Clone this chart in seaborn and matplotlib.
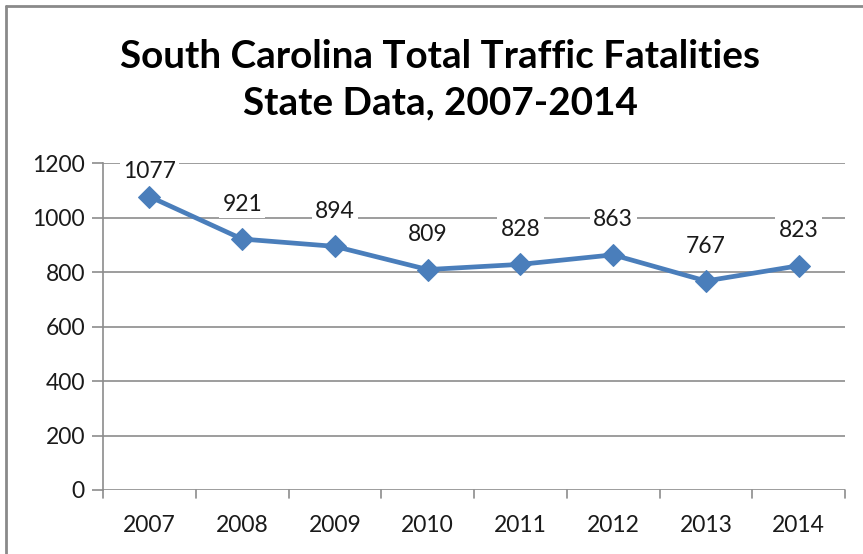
import matplotlib
matplotlib.use("Agg")
import matplotlib.pyplot as plt
import seaborn as sns
import pandas as pd
from matplotlib.lines import Line2D

years = ["2007", "2008", "2009", "2010", "2011", "2012", "2013", "2014"]
fatalities = [1077, 921, 894, 809, 828, 863, 767, 823]
y_ticks = [0, 200, 400, 600, 800, 1000, 1200]
title_lines = ["South Carolina Total Traffic Fatalities", "State Data, 2007-2014"]

df = pd.DataFrame({"year": years, "fatalities": fatalities})

sns.set_theme(style="white")
plt.rcParams["font.family"] = ["Lato", "DejaVu Sans"]

W, H = 863, 554
fig = plt.figure(figsize=(W / 100, H / 100), dpi=100)
ax = fig.add_axes([103 / W, 1 - 490 / H, (845 - 103) / W, (490 - 163) / H])

blue = "#4a7ebb"
grid = "#8c8c8c"
txt = "#1a1a1a"

x = list(range(len(years)))
df["x"] = x
sns.lineplot(data=df, x="x", y="fatalities", ax=ax, color=blue, linewidth=3.4,
             marker="D", markersize=11.5, markeredgecolor=blue, zorder=3)

ax.set_xlim(-0.5, len(years) - 0.5)
ax.set_ylim(0, 1200)
ax.set_yticks(y_ticks)
ax.set_yticklabels([str(t) for t in y_ticks], fontsize=16.5, color=txt)
ax.set_xticks(x)
ax.set_xticklabels(years, fontsize=16.5, color=txt)
ax.set_xlabel("")
ax.set_ylabel("")

# horizontal gridlines (bottom one acts as the category axis)
for t in y_ticks:
    ax.axhline(t, color=grid, linewidth=1.2, zorder=1)
for s in ["top", "right", "bottom"]:
    ax.spines[s].set_visible(False)
ax.spines["left"].set_color(grid)
ax.spines["left"].set_linewidth(1.2)

# y ticks outward on the left, category separators below the axis
ax.tick_params(axis="y", which="major", length=8, color=grid, width=1.2, left=True, pad=5)
ax.tick_params(axis="x", which="major", length=0, pad=18)
for b in range(len(years) + 1):
    ax.add_line(Line2D([b - 0.5, b - 0.5], [0, -28], color=grid, linewidth=1.2,
                       clip_on=False, zorder=1))

# value labels above each point, kept inside the plot area
for xi, v in zip(x, fatalities):
    ly = min(v + 128, 1167)
    ax.text(xi, ly, str(v), ha="center", va="center", fontsize=16.5, color=txt,
            bbox=dict(boxstyle="square,pad=0.15", fc="white", ec="none"), zorder=4)

fig.text(440 / W, 1 - 56 / H, title_lines[0], ha="center", va="center",
         fontsize=27.8, fontweight="bold", color="black")
fig.text(440 / W, 1 - 103 / H, title_lines[1], ha="center", va="center",
         fontsize=27.8, fontweight="bold", color="black")

# outer frame (left and top edges)
fig.add_artist(Line2D([6 / W, 6 / W], [0, 1 - 6 / H], color="#8a8a8a", linewidth=2))
fig.add_artist(Line2D([6 / W, 1], [1 - 6 / H, 1 - 6 / H], color="#8a8a8a", linewidth=2))

fig.savefig("out.png", dpi=100)
